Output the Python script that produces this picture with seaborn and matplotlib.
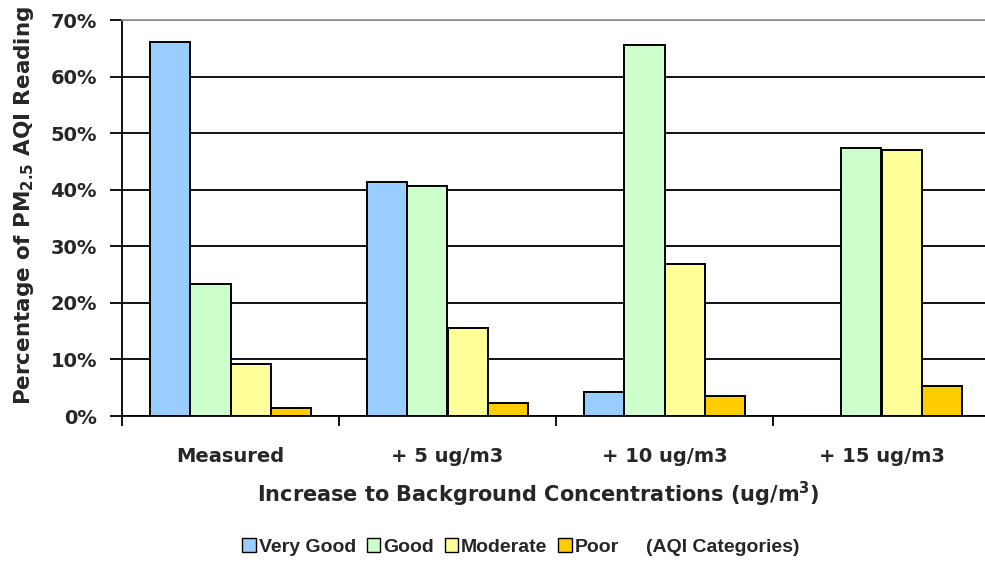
import matplotlib
matplotlib.use("Agg")
import matplotlib.pyplot as plt
from matplotlib.patches import Rectangle
from matplotlib.ticker import FuncFormatter, FixedLocator
import seaborn as sns
import pandas as pd

categories = ["Measured", "+ 5 ug/m3", "+ 10 ug/m3", "+ 15 ug/m3"]
aqi_levels = ["Very Good", "Good", "Moderate", "Poor"]
very_good = [66.1, 41.3, 4.2, 0.0]
good = [23.3, 40.6, 65.5, 47.3]
moderate = [9.2, 15.5, 26.9, 47.0]
poor = [1.4, 2.3, 3.5, 5.3]
colors = ["#99CCFF", "#CCFFCC", "#FFFF99", "#FFCC00"]

rows = []
for lvl, vals in zip(aqi_levels, [very_good, good, moderate, poor]):
    for c, v in zip(categories, vals):
        rows.append({"category": c, "level": lvl, "value": v})
df = pd.DataFrame(rows)

sns.set_style("white")
plt.rcParams["font.family"] = ["DejaVu Sans"]
plt.rcParams["font.weight"] = "bold"
plt.rcParams["mathtext.default"] = "regular"

W, H = 985, 567
fig = plt.figure(figsize=(W / 100, H / 100), dpi=100)
ax = fig.add_axes([122 / W, (H - 416) / H, 868 / W, 396 / H])

sns.barplot(data=df, x="category", y="value", hue="level", order=categories,
            hue_order=aqi_levels, palette=colors, width=0.74, gap=0,
            edgecolor="black", linewidth=1.4, saturation=1, ax=ax, legend=False)

ax.set_xlim(-0.5, 3.5)
ax.set_ylim(0, 70)
ax.set_yticks(range(0, 71, 10))
ax.yaxis.set_major_formatter(FuncFormatter(lambda v, p: f"{int(v)}%"))
ax.set_axisbelow(True)
ax.yaxis.grid(True, color="black", linewidth=1.3)
ax.xaxis.grid(False)

for s in ["left", "bottom"]:
    ax.spines[s].set_color("black")
    ax.spines[s].set_linewidth(1.3)
ax.spines["top"].set_color("#999999")
ax.spines["top"].set_linewidth(1.3)
ax.spines["right"].set_visible(False)

ax.tick_params(axis="y", which="major", direction="out", length=8.6, width=1.3,
               color="black", left=True, labelsize=14, pad=9.4)
ax.tick_params(axis="x", which="major", length=0, labelsize=14, pad=22)
ax.xaxis.set_minor_locator(FixedLocator([-0.5, 0.5, 1.5, 2.5]))
ax.tick_params(axis="x", which="minor", direction="out", length=7, width=1.3,
               color="black", bottom=True)
for lab in ax.get_xticklabels() + ax.get_yticklabels():
    lab.set_fontweight("bold")

ax.set_xlabel("Increase to Background Concentrations (ug/m$^{3}$)",
              fontsize=15, fontweight="bold")
ax.set_ylabel("Percentage of PM$_{2.5}$ AQI Reading", fontsize=15.5,
              fontweight="bold")
ax.xaxis.set_label_coords((538 - 122) / 868, -(494 - 416) / 396)
ax.yaxis.set_label_coords(-(122 - 24) / 868, (416 - 205) / 396)
ax.xaxis.label.set_verticalalignment("center")
ax.yaxis.label.set_verticalalignment("center")

handles = [Rectangle((0, 0), 1, 1, facecolor=c, edgecolor="black", linewidth=1)
           for c in colors]
handles.append(Rectangle((0, 0), 1, 1, facecolor="none", edgecolor="none"))
labels = aqi_levels + ["(AQI Categories)"]
fig.legend(handles, labels, loc="center", bbox_to_anchor=(521 / W, 1 - 547 / H),
           ncol=5, frameon=False, handlelength=0.7,
           handleheight=0.7, handletextpad=0.15, columnspacing=0.55,
           prop={"family": ["Liberation Sans", "DejaVu Sans"],
                 "weight": "bold", "size": 14})

fig.savefig("out.png", dpi=100)
